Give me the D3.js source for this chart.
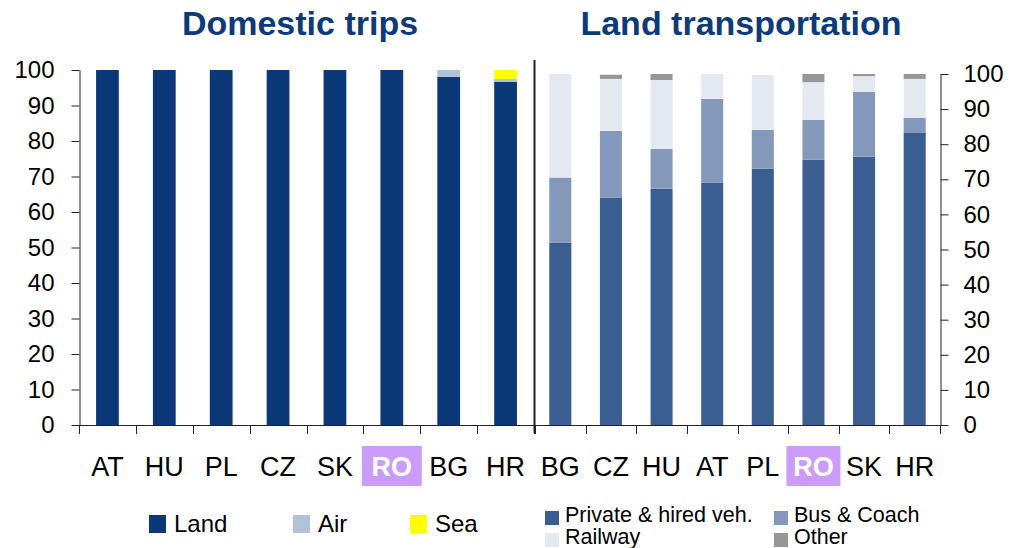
<!DOCTYPE html>
<html>
<head>
<meta charset="utf-8">
<script src="https://cdn.jsdelivr.net/npm/d3@7"></script>
<style>
  body { margin: 0; background: #fff; }
  text { font-family: Arial, "Liberation Sans", sans-serif; }
</style>
</head>
<body>
<div id="chart"></div>
<script>
// Domestic trips (left panel)
var domCats = ["AT", "HU", "PL", "CZ", "SK", "RO", "BG", "HR"];
var domLand = [100, 100, 100, 100, 100, 100, 98.1, 96.7];
var domAir  = [0, 0, 0, 0, 0, 0, 1.9, 0.8];
var domSea  = [0, 0, 0, 0, 0, 0, 0, 2.5];

// Land transportation (right panel)
var landCats   = ["BG", "CZ", "HU", "AT", "PL", "RO", "SK", "HR"];
var privateVeh = [52.0, 64.8, 67.3, 69.0, 73.0, 75.6, 76.4, 83.2];
var busCoach   = [18.5, 19.0, 11.4, 23.9, 11.1, 11.3, 18.5, 4.3];
var railway    = [29.5, 14.8, 19.6, 7.1, 15.6, 10.8, 4.5, 11.1];
var otherMode  = [0, 1.2, 1.7, 0, 0, 2.3, 0.6, 1.4];

var yTicks = [0, 10, 20, 30, 40, 50, 60, 70, 80, 90, 100];
var highlight = "RO";

var svg = d3.select("#chart").append("svg")
    .attr("width", 1009)
    .attr("height", 548);

function makePanel(opts) {
    var keys = opts.keys;
    var rows = opts.cats.map(function (c, i) {
        var r = { cat: c };
        keys.forEach(function (k, j) { r[k] = opts.series[j][i]; });
        return r;
    });
    var stacked = d3.stack().keys(keys)(rows);

    var x = d3.scaleBand()
        .domain(opts.cats)
        .range(opts.xRange)
        .paddingInner(opts.pad)
        .paddingOuter(opts.pad / 2);
    var y = d3.scaleLinear().domain([0, 100]).range(opts.yRange);

    var g = svg.append("g");

    // bars
    g.selectAll("g.layer")
        .data(stacked)
        .enter().append("g")
        .attr("fill", function (d, i) { return opts.colors[i]; })
        .selectAll("rect")
        .data(function (d) { return d; })
        .enter().append("rect")
        .attr("x", function (d) { return x(d.data.cat); })
        .attr("width", x.bandwidth())
        .attr("y", function (d) { return y(d[1]); })
        .attr("height", function (d) { return Math.max(0, y(d[0]) - y(d[1])); });

    // y axis
    var yAxis = (opts.yRight ? d3.axisRight(y) : d3.axisLeft(y))
        .tickValues(yTicks)
        .tickSize(8)
        .tickSizeOuter(0)
        .tickPadding(opts.yRight ? 15 : 17);
    var ya = g.append("g")
        .attr("transform", "translate(" + opts.yAxisX + ",0)")
        .call(yAxis);
    ya.selectAll("text").style("font-size", "24px").attr("fill", "#000");
    ya.selectAll("line, path").attr("stroke", "#222");

    // x axis line + boundary ticks
    var y0 = y(0);
    g.append("line")
        .attr("x1", opts.xRange[0]).attr("x2", opts.xRange[1])
        .attr("y1", y0 + 0.5).attr("y2", y0 + 0.5)
        .attr("stroke", "#222");
    var step = x.step();
    var bounds = opts.cats.map(function (c) { return x(c) - (step - x.bandwidth()) / 2; });
    bounds.push(opts.xRange[1]);
    g.selectAll("line.xt")
        .data(bounds)
        .enter().append("line")
        .attr("class", "xt")
        .attr("x1", function (d) { return Math.round(d) + 0.5; })
        .attr("x2", function (d) { return Math.round(d) + 0.5; })
        .attr("y1", y0)
        .attr("y2", y0 + 9)
        .attr("stroke", "#222");

    // category labels
    var lab = g.selectAll("g.cat")
        .data(opts.cats)
        .enter().append("g")
        .attr("transform", function (d) { return "translate(" + (x(d) + x.bandwidth() / 2) + ",0)"; });
    lab.filter(function (d) { return d === highlight; })
        .append("rect")
        .attr("x", -opts.hlWidth / 2)
        .attr("width", opts.hlWidth)
        .attr("y", 446)
        .attr("height", 40)
        .attr("fill", "#cc9cfa");
    lab.append("text")
        .attr("y", 476)
        .attr("text-anchor", "middle")
        .style("font-size", "27px")
        .style("font-weight", function (d) { return d === highlight ? "bold" : "normal"; })
        .attr("fill", function (d) { return d === highlight ? "#fff" : "#000"; })
        .text(function (d) { return d; });

    // title
    svg.append("text")
        .attr("x", opts.titleX)
        .attr("y", 35)
        .attr("text-anchor", "middle")
        .style("font-size", "34px")
        .style("font-weight", "bold")
        .attr("fill", "#0d3a78")
        .text(opts.title);

    return { x: x, y: y };
}

makePanel({
    title: "Domestic trips",
    titleX: 300,
    cats: domCats,
    keys: ["land", "air", "sea"],
    series: [domLand, domAir, domSea],
    colors: ["#0b3877", "#b2c2d8", "#ffff00"],
    xRange: [79, 534],
    yRange: [425, 70],
    yAxisX: 79.5,
    yRight: false,
    pad: 0.6,
    hlWidth: 60
});

makePanel({
    title: "Land transportation",
    titleX: 741,
    cats: landCats,
    keys: ["private", "bus", "rail", "other"],
    series: [privateVeh, busCoach, railway, otherMode],
    colors: ["#3a5e92", "#8499ba", "#e4e9f1", "#969696"],
    xRange: [535, 940],
    yRange: [425, 74],
    yAxisX: 940.5,
    yRight: true,
    pad: 0.565,
    hlWidth: 54
});

// divider between panels
svg.append("line")
    .attr("x1", 534.5).attr("x2", 534.5)
    .attr("y1", 60).attr("y2", 433)
    .attr("stroke", "#222")
    .attr("stroke-width", 2);

// legends
var legLeft = [
    { name: "Land", color: "#0b3877", x: 149 },
    { name: "Air", color: "#b2c2d8", x: 293 },
    { name: "Sea", color: "#ffff00", x: 410 }
];
var ll = svg.append("g").selectAll("g")
    .data(legLeft).enter().append("g")
    .attr("transform", function (d) { return "translate(" + d.x + ",0)"; });
ll.append("rect").attr("y", 515).attr("width", 17).attr("height", 18)
    .attr("fill", function (d) { return d.color; });
ll.append("text").attr("x", 25).attr("y", 532)
    .style("font-size", "24px").attr("fill", "#000")
    .text(function (d) { return d.name; });

var legRight = [
    { name: "Private & hired veh.", color: "#3a5e92", x: 545, y: 511 },
    { name: "Bus & Coach", color: "#8499ba", x: 774, y: 511 },
    { name: "Railway", color: "#e4e9f1", x: 545, y: 533 },
    { name: "Other", color: "#969696", x: 774, y: 533 }
];
var lr = svg.append("g").selectAll("g")
    .data(legRight).enter().append("g")
    .attr("transform", function (d) { return "translate(" + d.x + "," + d.y + ")"; });
lr.append("rect").attr("y", 0).attr("width", 14).attr("height", 14)
    .attr("fill", function (d) { return d.color; });
lr.append("text").attr("x", 20).attr("y", 11)
    .style("font-size", "21.5px").attr("fill", "#000")
    .text(function (d) { return d.name; });
</script>
</body>
</html>
